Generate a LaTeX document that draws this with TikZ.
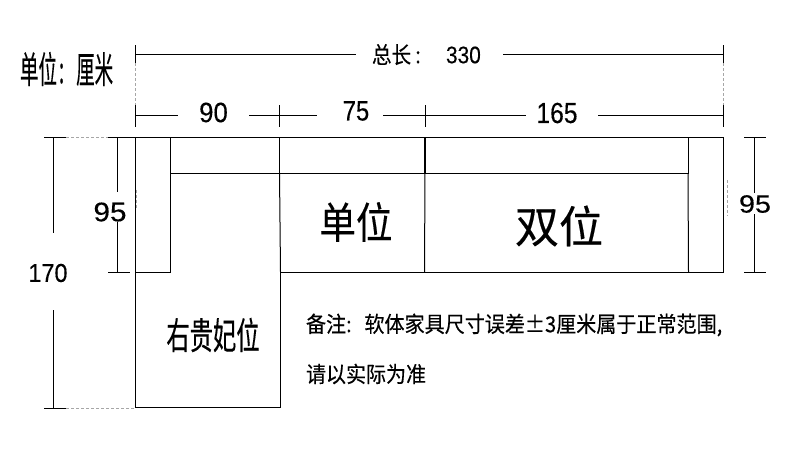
\documentclass[tikz,border=0pt]{standalone}
\usepackage{fontspec}
\setmainfont[FakeBold=0.25]{Liberation Sans}
\newfontfamily\cjk[FakeBold=0.35]{Noto Sans CJK SC}
\tikzset{
    sofaline/.style={draw=black,line width=1pt},
    dimline/.style={draw=black,line width=0.9pt},
    greydash/.style={draw=black!35,line width=0.8pt,dash pattern=on 3pt off 2pt},
    lbl/.style={inner sep=0pt,outer sep=0pt},
}
% teks: lebar, ukuran font, isi
\newcommand{\hz}[3]{\scalebox{#1}[1]{\fontsize{#2}{#2}\selectfont\cjk #3}}
\newcommand{\num}[3]{\scalebox{#1}[1]{\fontsize{#2}{#2}\selectfont #3}}

\begin{document}
\begin{tikzpicture}[x=1pt,y=-1pt]
    \useasboundingbox (0,0) rectangle (790,458);
    % titik-titik sofa
    \coordinate (TL) at (135.5,137.5);
    \coordinate (TR) at (723.5,137.5);
    \coordinate (BR) at (723.5,272);
    \coordinate (SB) at (280.5,272);
    \coordinate (CR) at (280.5,407.5);
    \coordinate (CL) at (135.5,407.5);
    \coordinate (AL) at (135.5,272);
    \coordinate (AT) at (170.5,137.5);
    \coordinate (AI) at (170.5,272);
    \coordinate (BL) at (170.5,173);
    \coordinate (BA) at (279.5,137.5);
    \coordinate (BB) at (279.5,173);
    \coordinate (BC) at (425,137.5);
    \coordinate (BD) at (425,173);
    \coordinate (SD) at (424.5,272);
    \coordinate (RT) at (688,137.5);
    \coordinate (RB) at (688,173);
    \coordinate (RS) at (688.5,272);

    % pembuatan sofa
    \draw[sofaline] (TL) -- (TR) -- (BR) -- (SB) -- (CR) -- (CL) -- (TL);
    \draw[sofaline] (AL) -- (AI) -- (AT);
    \draw[sofaline] (BL) -- (RB) -- (RT);
    \draw[sofaline] (RB) -- (RS);
    \draw[sofaline,line width=1.5pt] (BA) -- (BB);
    \draw[sofaline] (BB) -- (SB);
    \draw[sofaline,line width=1.5pt] (BC) -- (BD);
    \draw[sofaline] (BD) -- (SD);

    % ukuran atas
    \node[lbl,anchor=west] (total) at (372,54.5) {\hz{.85}{23}{总长\hspace{5pt}:}};
    \node[lbl,anchor=west] (len) at (446,55) {\num{.87}{24}{330}};
    \node[lbl] (w90) at (213.5,112.5) {\num{.92}{28}{90}};
    \node[lbl] (w75) at (356,111) {\num{.85}{28}{75}};
    \node[lbl] (w165) at (557,113) {\num{.85}{29}{165}};
    \coordinate (t0) at (135.5,54);
    \coordinate (t1) at (723.5,54);
    \coordinate (t2) at (356,54);
    \coordinate (t3) at (503,54);
    \draw[dimline] (t0) -- (t2);
    \draw[dimline] (t3) -- (t1);
    \draw[dimline] (135.5,45) -- (135.5,63);
    \draw[dimline] (723.5,45) -- (723.5,63);
    \draw[greydash] (135.5,63) -- (135.5,105);
    \draw[greydash] (723.5,63) -- (723.5,105);
    \foreach \x in {135.5,279.5,425.5,723.5}
        \draw[dimline] (\x,105) -- (\x,127);
    \draw[dimline] (135.5,115) -- (178,115);
    \draw[dimline] (249,115) -- (317,115);
    \draw[dimline] (383,115) -- (526,115);
    \draw[dimline] (598,115) -- (723.5,115);

    % ukuran kiri
    \node[lbl] (h95) at (110,212) {\num{1.1}{27}{95}};
    \node[lbl] (h170) at (48,273) {\num{.9}{26}{170}};
    \draw[dimline] (44,137.5) -- (66,137.5);
    \draw[greydash] (66,137.5) -- (108,137.5);
    \draw[dimline] (108,137.5) -- (135.5,137.5);
    \draw[dimline] (108,272) -- (130,272);
    \draw[dimline] (44,408) -- (66,408);
    \draw[greydash] (66,408) -- (135.5,408);
    \draw[dimline] (53.5,137.5) -- (53.5,233);
    \draw[dimline] (53.5,310) -- (53.5,408);
    \draw[dimline] (117.5,137.5) -- (117.5,192);
    \draw[dimline] (117.5,222) -- (117.5,272);
    \draw[greydash] (136.5,190) -- (136.5,208);

    % ukuran kanan
    \node[lbl] (r95) at (755,204) {\num{1.15}{25}{95}};
    \draw[dimline] (744,137.5) -- (766,137.5);
    \draw[dimline] (744,272) -- (766,272);
    \draw[dimline] (754.5,137.5) -- (754.5,193);
    \draw[dimline] (754.5,214) -- (754.5,272);
    \draw[greydash] (727.5,180) -- (727.5,216);

    % teks
    \node[lbl,anchor=west] (unit) at (20,69) {\hz{.5}{37}{单位\hspace{4pt}:\hspace{24pt}厘米}};
    \node[lbl] (single) at (356,222) {\hz{.85}{43}{单位}};
    \node[lbl] (double) at (559,226) {\hz{1}{44}{双位}};
    \node[lbl] (chaise) at (213,335) {\hz{.63}{37}{右贵妃位}};
    \node[lbl,anchor=west] (note1) at (306,325) {\hz{.912}{22}{备注:\hspace{14pt}软体家具尺寸误差±3厘米属于正常范围,}};
    \node[lbl,anchor=west] (note2) at (306,374) {\hz{.91}{22}{请以实际为准}};
\end{tikzpicture}
\end{document}
